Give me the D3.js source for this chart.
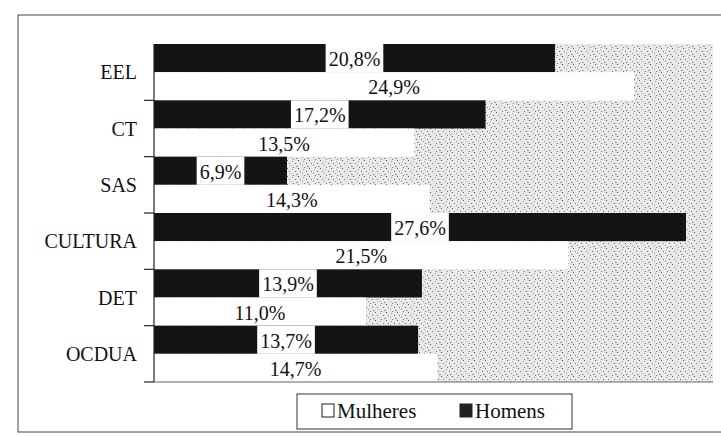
<!DOCTYPE html>
<html>
<head>
<meta charset="utf-8">
<style>
    body { margin: 0; background: white; }
    svg { display: block; }
</style>
</head>
<body>
<svg width="721" height="437"></svg>
<script src="https://d3js.org/d3.v7.min.js"></script>
<script>
    // values
    const categories = ["EEL", "CT", "SAS", "CULTURA", "DET", "OCDUA"];
    const homens = [20.8, 17.2, 6.9, 27.6, 13.9, 13.7];
    const mulheres = [24.9, 13.5, 14.3, 21.5, 11.0, 14.7];
    const seriesNames = ["Homens", "Mulheres"];
    const legendNames = ["Mulheres", "Homens"];

    const FONT = "Liberation Serif";

    let svg = d3.select("svg");
    let pt = d3.formatLocale({decimal: ",", thousands: ".", grouping: [3], currency: ["", "€"]});
    let fmt = v => pt.format(".1f")(v) + "%";

    let x = d3.scaleLinear().domain([0, 29]).range([154, 713]);
    let y = d3.scaleBand().domain(categories).range([44, 382]);
    let sub = d3.scaleBand().domain(seriesNames).range([0, y.bandwidth()]);

    // speckled plot background (scanner texture)
    let defs = svg.append("defs");
    let pat = defs.append("pattern")
        .attr("id", "speck")
        .attr("width", 11).attr("height", 8)
        .attr("patternUnits", "userSpaceOnUse");
    pat.append("rect").attr("width", 11).attr("height", 8).attr("fill", "#e9e9e9");
    [[1, 0, "#555"], [6, 1, "#999"], [3, 3, "#777"], [9, 3, "#666"], [5, 5, "#999"], [10, 6, "#888"], [0, 6, "#aaa"], [7, 7, "#777"]].forEach(p => {
        pat.append("rect").attr("x", p[0]).attr("y", p[1]).attr("width", 1).attr("height", 1).attr("fill", p[2]);
    });

    // outer frame
    svg.append("rect")
        .attr("x", 18).attr("y", 15)
        .attr("width", 720).attr("height", 417)
        .attr("fill", "none")
        .attr("stroke", "#444")
        .attr("stroke-width", 1);

    svg.append("rect")
        .attr("x", x(0)).attr("y", y.range()[0])
        .attr("width", x.range()[1] - x(0))
        .attr("height", y.range()[1] - y.range()[0])
        .attr("fill", "url(#speck)");

    let rows = categories.map((c, i) => ({cat: c, Homens: homens[i], Mulheres: mulheres[i]}));

    let g = svg.append("g");
    rows.forEach(r => {
        seriesNames.forEach(s => {
            g.append("rect")
                .attr("x", x(0))
                .attr("y", y(r.cat) + sub(s))
                .attr("width", x(r[s]) - x(0))
                .attr("height", sub.bandwidth())
                .attr("fill", s == "Homens" ? "#141414" : "white");
        });
    });

    // value labels, centred in each bar
    rows.forEach(r => {
        seriesNames.forEach(s => {
            let cx = (x(0) + x(r[s])) / 2;
            let cy = y(r.cat) + sub(s) + sub.bandwidth() / 2;
            let t = g.append("text")
                .attr("x", cx).attr("y", cy + 1)
                .attr("font-family", FONT)
                .attr("font-size", 20)
                .attr("fill", "#111")
                .attr("text-anchor", "middle")
                .attr("dominant-baseline", "central")
                .text(fmt(r[s]));
            if (s == "Homens") {
                let bb = t.node().getBBox();
                g.insert("rect", "text")
                    .attr("x", bb.x - 3).attr("y", y(r.cat) + sub(s))
                    .attr("width", bb.width + 6)
                    .attr("height", sub.bandwidth())
                    .attr("fill", "white");
            }
        });
    });

    // axis lines
    let axis = svg.append("g").attr("stroke", "#222").attr("stroke-width", 1.2);
    axis.append("line")
        .attr("x1", x(0)).attr("x2", x(0))
        .attr("y1", y.range()[0]).attr("y2", y.range()[1]);
    axis.append("line")
        .attr("x1", x(0)).attr("x2", x.range()[1])
        .attr("y1", y.range()[1]).attr("y2", y.range()[1])
        .attr("stroke", "#666");
    let bounds = categories.slice(1).map(c => y(c)).concat([y.range()[1]]);
    axis.selectAll(".tick")
        .data(bounds)
        .join("line")
        .attr("x1", x(0) - 10).attr("x2", x(0))
        .attr("y1", d => d).attr("y2", d => d);

    // category labels
    svg.append("g")
        .selectAll("text")
        .data(categories)
        .join("text")
        .attr("x", 137)
        .attr("y", d => y(d) + y.bandwidth() / 2)
        .attr("font-family", FONT)
        .attr("font-size", 20)
        .attr("fill", "#111")
        .attr("text-anchor", "end")
        .attr("dominant-baseline", "central")
        .text(d => d);

    // legend
    let leg = svg.append("g");
    leg.append("rect")
        .attr("x", 297).attr("y", 394)
        .attr("width", 275).attr("height", 35)
        .attr("fill", "white")
        .attr("stroke", "#333");
    let lx = [322, 460];
    legendNames.forEach((n, i) => {
        leg.append("rect")
            .attr("x", lx[i]).attr("y", 404)
            .attr("width", 12).attr("height", 13)
            .attr("fill", n == "Homens" ? "#222" : "white")
            .attr("stroke", "#222");
        leg.append("text")
            .attr("x", lx[i] + 15).attr("y", 411)
            .attr("font-family", FONT)
            .attr("font-size", 21)
            .attr("fill", "#111")
            .attr("dominant-baseline", "central")
            .text(n);
    });
</script>
</body>
</html>
